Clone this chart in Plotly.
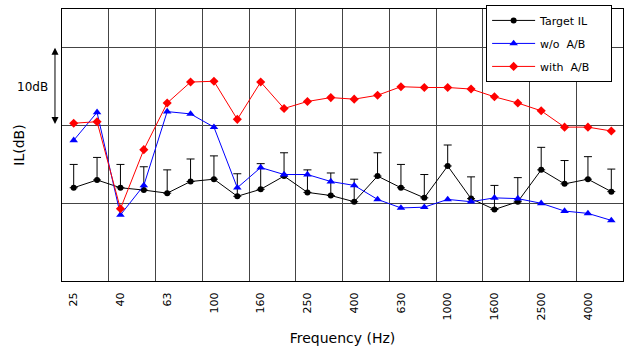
import plotly.graph_objects as go

freqs = ["25", "31.5", "40", "50", "63", "80", "100", "125", "160", "200", "250", "315",
         "400", "500", "630", "800", "1000", "1250", "1600", "2000", "2500", "3150", "4000", "5000"]
target_il = [2.0, 3.0, 2.0, 1.7, 1.3, 2.8, 3.1, 0.9, 1.8, 3.5, 1.4, 1.0,
             0.2, 3.5, 2.0, 0.7, 4.8, 0.6, -0.8, 0.2, 4.3, 2.5, 3.1, 1.5]
target_err = [3.0, 2.9, 3.0, 3.0, 3.0, 2.9, 3.0, 2.9, 3.3, 3.0, 2.9, 2.9,
              2.9, 3.0, 3.0, 3.0, 2.7, 2.8, 3.1, 3.1, 2.9, 3.0, 2.9, 2.9]
wo_ab = [8.1, 11.7, -1.5, 2.3, 11.8, 11.5, 9.8, 2.0, 4.6, 3.7, 3.7, 2.8,
         2.3, 0.5, -0.6, -0.5, 0.5, 0.2, 0.7, 0.6, 0.0, -1.0, -1.3, -2.2]
with_ab = [10.3, 10.5, -0.7, 6.9, 12.9, 15.6, 15.7, 10.8, 15.6, 12.2, 13.1, 13.6,
           13.4, 13.9, 15.0, 14.9, 14.9, 14.7, 13.7, 12.9, 11.9, 9.8, 9.8, 9.3]
series_names = ["Target IL", "w/o  A/B", "with  A/B"]

idx = list(range(len(freqs)))
label_idx = idx[::2]
label_txt = freqs[::2]
band_edges = [i + 1.5 for i in idx[:-2:2]]

FONT = "DejaVu Sans"
PAD = "\u00a0" * 5

fig = go.Figure()
fig.add_trace(go.Scatter(
    x=idx, y=target_il, name=series_names[0] + PAD, mode="lines+markers", legendgroup="a",
    line=dict(color="black", width=1),
    marker=dict(symbol="circle", size=6, color="black"),
    error_y=dict(type="data", symmetric=False, array=target_err,
                 arrayminus=[0] * len(target_err), color="black", thickness=1, width=4),
))
fig.add_trace(go.Scatter(
    x=idx, y=wo_ab, name=series_names[1], mode="lines+markers", legendgroup="b",
    line=dict(color="#0000FF", width=1),
    marker=dict(symbol="triangle-up", size=7.5, color="#0000FF"),
))
fig.add_trace(go.Scatter(
    x=idx, y=with_ab, name=series_names[2], mode="lines+markers", legendgroup="c",
    line=dict(color="#FF0000", width=1),
    marker=dict(symbol="diamond", size=7, color="#FF0000"),
))

fig.update_layout(
    width=625, height=349,
    margin=dict(l=62, r=2, t=9, b=68),
    paper_bgcolor="white", plot_bgcolor="white",
    font=dict(family=FONT, size=12, color="black"),
    showlegend=True,
    legend=dict(x=0.756, y=1.015, xanchor="left", yanchor="top",
                bgcolor="white", bordercolor="black", borderwidth=1,
                font=dict(family=FONT, size=11, color="black"),
                tracegroupgap=4, itemwidth=43),
    xaxis=dict(range=[-0.5, 23.5], tickmode="array", tickvals=label_idx, ticktext=label_txt,
               tickangle=-90, showgrid=False, zeroline=False, ticks="",
               tickfont=dict(family=FONT, size=11, color="black"),
               showline=True, linecolor="black", linewidth=1, mirror=True,
               ticklabelstandoff=6,
               minor=dict(tickmode="array", tickvals=band_edges, showgrid=True,
                          gridcolor="#444444", gridwidth=1, ticks=""),
               title=dict(text="Frequency (Hz)", font=dict(family=FONT, size=14), standoff=13)),
    yaxis=dict(range=[-10, 25], tickmode="array", tickvals=[-10, 0, 10, 20],
               showticklabels=False, ticks="", showgrid=True, gridcolor="#444444", gridwidth=1,
               zeroline=False, showline=True, linecolor="black", linewidth=1, mirror=True,
               title=dict(text="IL(dB)", font=dict(family=FONT, size=14), standoff=33)),
)

fig.add_annotation(x=-0.0125, xref="paper", y=20, yref="y", ax=-0.0125, axref="pixel",
                   ay=10, ayref="y", text="", showarrow=True, arrowside="end+start",
                   arrowhead=2, arrowsize=1.4, arrowwidth=1, arrowcolor="black")
fig.add_annotation(x=-0.052, xref="paper", y=15, yref="y", text="10dB", showarrow=False,
                   font=dict(family=FONT, size=12, color="black"), xanchor="center")

fig.write_html("out.html")
